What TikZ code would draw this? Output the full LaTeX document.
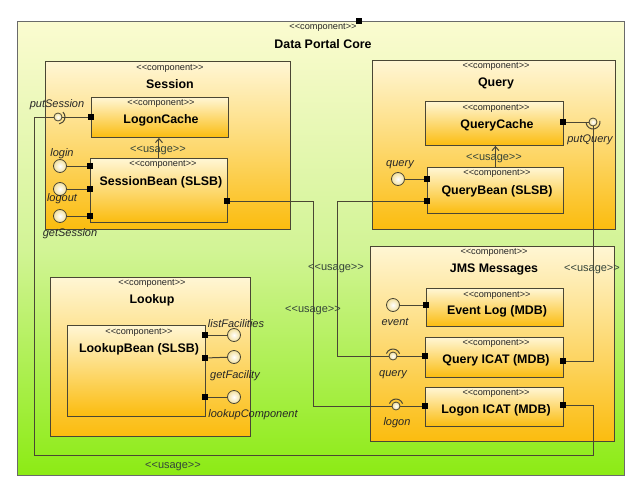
\documentclass[tikz,border=0pt]{standalone}
\usepackage{fontspec}
\setmainfont{Liberation Sans}[Ligatures=TeXOff]
\usepackage{xcolor}
\usetikzlibrary{arrows.meta}
\definecolor{core_top}{HTML}{FBFBD0}
\definecolor{core_mid}{HTML}{D2F496}
\definecolor{core_bot}{HTML}{8CEB14}
\definecolor{core_line}{HTML}{6A6A6A}
\definecolor{box_top}{HTML}{FFF6D4}
\definecolor{box_bot}{HTML}{FBBC0E}
\definecolor{box_line}{HTML}{4A4634}
\definecolor{ball_fill}{HTML}{F2E09C}
\definecolor{usage_text}{HTML}{34443A}
\newcommand{\cmpstereo}{<<component>>}
\newcommand{\usagetxt}{<<usage>>}

\begin{document}
\begin{tikzpicture}[x=1pt, y=-1pt, >={Straight Barb[length=4pt, width=7pt]},
  every node/.style={font=\fontsize{9.2}{10}\selectfont, inner sep=0pt},
  core/.style={draw=core_line, line width=0.9pt, top color=core_top, bottom color=core_bot, middle color=core_mid, anchor=north west},
  cmp/.style={draw=box_line, line width=0.9pt, top color=box_top, bottom color=box_bot, anchor=north west},
  port/.style={fill=black, minimum size=6.5pt},
  ball/.style={circle, draw=box_line, line width=0.8pt, inner color=white, outer color=ball_fill, minimum size=13pt},
  sock/.style={circle, draw=box_line, line width=0.8pt, inner color=white, outer color=ball_fill, minimum size=8pt},
  wire/.style={draw=box_line, line width=1pt},
  stereo/.style={text=black!85},
  cname/.style={font=\fontsize{12.4}{14}\selectfont\bfseries},
  itf/.style={font=\fontsize{11}{13}\selectfont\itshape, text=black!85},
  usage/.style={font=\fontsize{11}{13}\selectfont, text=usage_text}]

  \useasboundingbox (0,0) rectangle (640,490);
  \fill[white] (0,0) rectangle (640,490);

  % The outer component that holds all the others.
  \node[core, minimum width=607pt, minimum height=454pt] (core) at (17,21) {};
  \node[port] (coreP) at (359,21) {};
  \node[stereo] (coreS) at (323,27) {\cmpstereo};
  \node[cname] (coreT) at (323,44) {Data Portal Core};

  % Session, top left.
  \node[cmp, minimum width=245pt, minimum height=168pt] (ses) at (45,61) {};
  \node[stereo] (sesS) at (170,68) {\cmpstereo};
  \node[cname] (sesT) at (170,84) {Session};

  \node[cmp, minimum width=137pt, minimum height=40pt] (lc) at (91,97) {};
  \node[stereo] (lcS) at (161,103) {\cmpstereo};
  \node[cname] (lcT) at (161,120) {LogonCache};

  \node[cmp, minimum width=137pt, minimum height=64pt] (sb) at (90,158) {};
  \node[stereo] (sbS) at (163,164) {\cmpstereo};
  \node[cname] (sbT) at (161,182) {SessionBean (SLSB)};

  \node[port] (lcL) at (91,117) {};
  \node[port] (sbL1) at (90,166) {};
  \node[port] (sbL2) at (90,189) {};
  \node[port] (sbL3) at (90,216) {};
  \node[port] (sbR) at (227,201) {};

  \node[sock] (psS) at (58,117) {};
  \node[ball] (loginB) at (60,166) {};
  \node[ball] (logoutB) at (60,189) {};
  \node[ball] (getsB) at (60,216) {};
  \node[itf] (psL) at (57,105) {putSession};
  \node[itf] (loginL) at (62,154) {login};
  \node[itf] (logoutL) at (62,199) {logout};
  \node[itf] (getsL) at (70,234) {getSession};

  % Query, top right.
  \node[cmp, minimum width=243pt, minimum height=169pt] (qry) at (372,60) {};
  \node[stereo] (qryS) at (496,66) {\cmpstereo};
  \node[cname] (qryT) at (496,83) {Query};

  \node[cmp, minimum width=138pt, minimum height=44pt] (qc) at (425,101) {};
  \node[stereo] (qcS) at (496,108) {\cmpstereo};
  \node[cname] (qcT) at (497,125) {QueryCache};

  \node[cmp, minimum width=136pt, minimum height=46pt] (qb) at (427,167) {};
  \node[stereo] (qbS) at (497,173) {\cmpstereo};
  \node[cname] (qbT) at (497,191) {QueryBean (SLSB)};

  \node[port] (qcR) at (563,122) {};
  \node[port] (qbL1) at (427,179) {};
  \node[port] (qbL2) at (427,201) {};

  \node[ball] (queryB) at (398,179) {};
  \node[sock] (pqS) at (593,122) {};
  \node[itf] (queryL) at (400,165) {query};
  \node[itf] (pqL) at (590,140) {putQuery};

  % JMS Messages, bottom right.
  \node[cmp, minimum width=244pt, minimum height=195pt] (jms) at (370,246) {};
  \node[stereo] (jmsS) at (494,252) {\cmpstereo};
  \node[cname] (jmsT) at (494,269) {JMS Messages};

  \node[cmp, minimum width=137pt, minimum height=38pt] (el) at (426,288) {};
  \node[stereo] (elS) at (497,295) {\cmpstereo};
  \node[cname] (elT) at (497,311) {Event Log (MDB)};

  \node[cmp, minimum width=138pt, minimum height=40pt] (jq) at (425,337) {};
  \node[stereo] (jqS0) at (496,343) {\cmpstereo};
  \node[cname] (jqT) at (496,360) {Query ICAT (MDB)};

  \node[cmp, minimum width=138pt, minimum height=39pt] (jl) at (425,387) {};
  \node[stereo] (jlS0) at (496,393) {\cmpstereo};
  \node[cname] (jlT) at (496,410) {Logon ICAT (MDB)};

  \node[port] (elL) at (426,305) {};
  \node[port] (jqL) at (425,356) {};
  \node[port] (jqR) at (563,361) {};
  \node[port] (jlL) at (425,406) {};
  \node[port] (jlR) at (563,405) {};

  \node[ball] (eventB) at (393,305) {};
  \node[sock] (jqS) at (393,356) {};
  \node[sock] (jlS) at (396,406) {};
  \node[itf] (eventL) at (395,322) {event};
  \node[itf] (jqQL) at (393,375) {query};
  \node[itf] (jlLL) at (397,423) {logon};

  % Lookup, bottom left.
  \node[cmp, minimum width=200pt, minimum height=159pt] (lk) at (50,277) {};
  \node[stereo] (lkS) at (152,283) {\cmpstereo};
  \node[cname] (lkT) at (152,300) {Lookup};

  \node[cmp, minimum width=138pt, minimum height=91pt] (lb) at (67,325) {};
  \node[stereo] (lbS) at (139,332) {\cmpstereo};
  \node[cname] (lbT) at (139,349) {LookupBean (SLSB)};

  \node[port] (lbR1) at (205,335) {};
  \node[port] (lbR2) at (205,358) {};
  \node[port] (lbR3) at (205,397) {};
  \node[ball] (lfB) at (234,335) {};
  \node[ball] (gfB) at (234,357) {};
  \node[ball] (lcB) at (234,397) {};
  \node[itf] (lfL) at (236,324) {listFacilities};
  \node[itf] (gfL) at (235,376) {getFacility};
  \node[itf] (lcpL) at (253,415) {lookupComponent};

  % Short links from the interfaces to their ports.
  \draw[wire] (psS) -- (lcL);
  \draw[wire] (loginB) -- (sbL1);
  \draw[wire] (logoutB) -- (sbL2);
  \draw[wire] (getsB) -- (sbL3);
  \draw[wire] (queryB) -- (qbL1);
  \draw[wire] (qcR) -- (pqS);
  \draw[wire] (eventB) -- (elL);
  \draw[wire] (jqS) -- (jqL);
  \draw[wire] (jlS) -- (jlL);
  \draw[wire] (lbR1) -- (lfB);
  \draw[wire] (lbR2) -- (gfB);
  \draw[wire] (lbR3) -- (lcB);

  % Half sockets round the required interfaces.
  \draw[wire] (psS.center) ++(45:7pt) arc[start angle=45, end angle=-80, radius=7pt];
  \draw[wire] (pqS.center) ++(190:7pt) arc[start angle=190, end angle=370, radius=7pt];
  \draw[wire] (jqS.center) ++(20:7pt) arc[start angle=20, end angle=160, radius=7pt];
  \draw[wire] (jlS.center) ++(20:7pt) arc[start angle=20, end angle=160, radius=7pt];

  % Usage inside Session and Query.
  \draw[wire, ->] (sb.north) -- (sb.north |- lc.south);
  \draw[wire, ->] (qb.north) -- (qb.north |- qc.south);

  % Long routes between the components.
  \coordinate (psDown) at (34,455);
  \coordinate (psUp) at (593,455);
  \draw[wire] (psS) -| (psDown) -- (psUp) |- (jlR);

  \coordinate (sbBend) at (313,406);
  \draw[wire] (sbR) -| (sbBend) -- (jlS);

  \coordinate (qbBend) at (337,356);
  \draw[wire] (qbL2) -| (qbBend) -- (jqS);

  \coordinate (pqBend) at (593,361);
  \draw[wire] (pqS) -- (pqBend) -- (jqR);

  \node[usage] (u1) at (158,150) {\usagetxt};
  \node[usage] (u2) at (494,158) {\usagetxt};
  \node[usage] (u3) at (336,268) {\usagetxt};
  \node[usage] (u4) at (313,310) {\usagetxt};
  \node[usage] (u5) at (592,269) {\usagetxt};
  \node[usage] (u6) at (173,466) {\usagetxt};

\end{tikzpicture}
\end{document}
